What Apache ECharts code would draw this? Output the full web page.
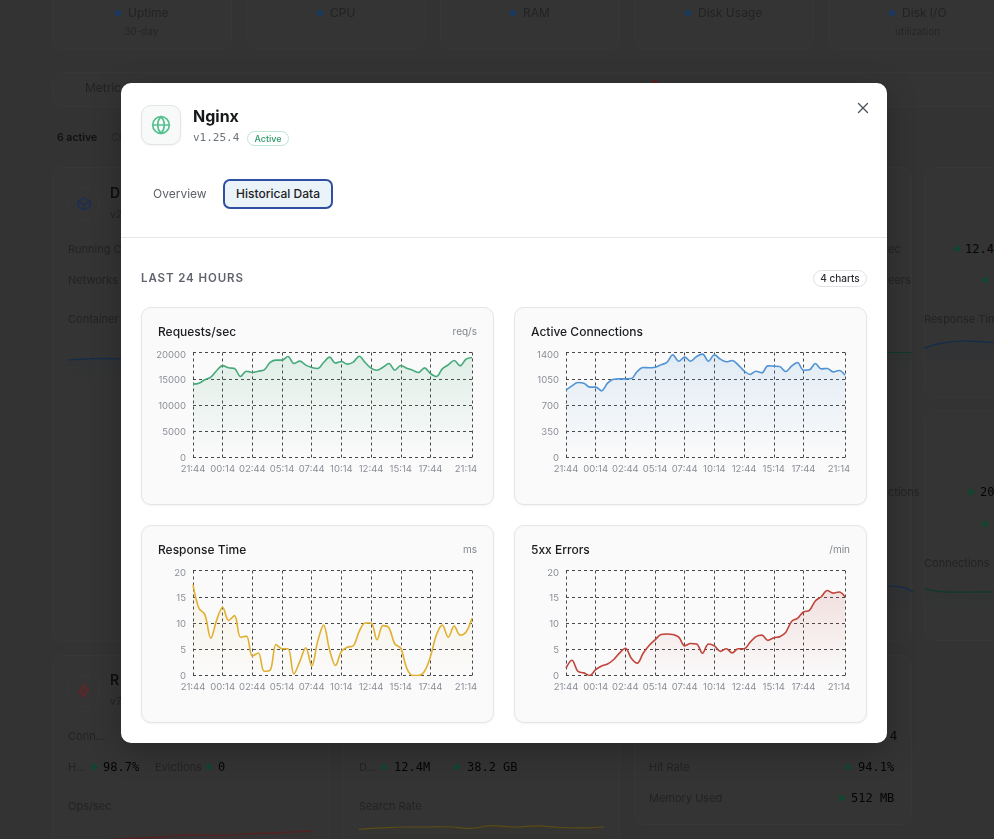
<!DOCTYPE html>
<html><head><meta charset="utf-8">
<script src="https://cdn.jsdelivr.net/npm/echarts@6/dist/echarts.min.js"></script>
<style>
*{box-sizing:border-box}
html,body{margin:0;padding:0;width:994px;height:839px;overflow:hidden;background:#333;font-family:Inter,"Noto Sans",sans-serif}
.abs{position:absolute}
#bg{position:absolute;inset:0;filter:blur(.4px)}
.bc{position:absolute;border:1px solid #373737;border-radius:10px;background:#343434}
.t{position:absolute;white-space:nowrap;transform:translateY(-50%);font-size:11px;color:#1d1d1d;line-height:1}
.l{color:#232323}
.m{font-family:"DejaVu Sans Mono","Liberation Mono",monospace;color:#050505;font-size:12px}
.d{position:absolute;width:6px;height:6px;border-radius:50%;background:#12452f;transform:translate(-50%,-50%)}
.d.b{background:#173a63}
#modal{position:absolute;left:121px;top:83px;width:766px;height:660px;background:#fff;border-radius:10px;box-shadow:0 8px 30px rgba(0,0,0,.25)}
.card{position:absolute;width:353px;height:198px;background:#fafafa;border:1px solid #e3e5e8;border-radius:10px;box-shadow:0 1px 2px rgba(0,0,0,.05)}
.card .ttl{position:absolute;left:16px;top:16px;font-size:12px;font-weight:500;color:#1b1c1f;line-height:15px}
.card .un{position:absolute;right:16px;top:16px;font-size:10px;color:#80858d;line-height:15px}
.card .ch{position:absolute;left:-1px;top:-1px;width:353px;height:198px}
</style></head><body>
<div id="bg"></div>
<div id="modal">
  <div class="abs" style="left:20px;top:22px;width:40px;height:40px;border:1px solid #e2e4e7;border-radius:10px;background:#f8f9f9;box-shadow:0 1px 2px rgba(0,0,0,.05)">
    <svg style="position:absolute;left:9px;top:9px" width="20" height="20" viewBox="0 0 24 24" fill="none" stroke="#55c18f" stroke-width="2" stroke-linecap="round" stroke-linejoin="round"><circle cx="12" cy="12" r="10"/><path d="M12 2a14.5 14.5 0 0 0 0 20 14.5 14.5 0 0 0 0-20"/><path d="M2 12h20"/></svg>
  </div>
  <div class="abs" style="left:72px;top:23px;font-size:16px;font-weight:700;color:#17181a;line-height:20px">Nginx</div>
  <div class="abs" style="left:72px;top:48px;font-family:'DejaVu Sans Mono',monospace;font-size:11px;color:#6f747b;line-height:14px">v1.25.4</div>
  <div class="abs" style="left:126px;top:48px;width:42px;height:15px;border:1px solid #bfe5d3;border-radius:8px;font-size:9px;font-weight:500;color:#2f9768;text-align:center;line-height:13px">Active</div>
  <svg class="abs" style="left:736px;top:19px" width="12" height="12" viewBox="0 0 12 12" fill="none" stroke="#4b5057" stroke-width="1.3" stroke-linecap="round"><path d="M1.5 1.5l9 9M10.5 1.5l-9 9"/></svg>
  <div class="abs" style="left:32px;top:103px;font-size:12px;color:#5c6068;line-height:16px">Overview</div>
  <div class="abs" style="left:102px;top:96px;width:110px;height:30px;border:2px solid #2f4fa3;border-radius:7px;background:#eaf3f8;font-size:12px;font-weight:500;color:#1e2126;text-align:center;line-height:26px">Historical Data</div>
  <div class="abs" style="left:0;top:154px;width:766px;height:1px;background:#e5e7ea"></div>
  <div class="abs" style="left:20px;top:187px;font-size:11.5px;font-weight:600;letter-spacing:.9px;color:#5f646c;line-height:16px">LAST 24 HOURS</div>
  <div class="abs" style="left:692px;top:187px;width:54px;height:17px;border:1px solid #dfe1e4;border-radius:9px;font-size:10px;font-weight:500;color:#2b2e33;text-align:center;line-height:15px">4 charts</div>
  <div class="card" style="left:20px;top:224px"><div class="ttl">Requests/sec</div><div class="un">req/s</div><div class="ch" id="c1"></div></div>
  <div class="card" style="left:393px;top:224px"><div class="ttl">Active Connections</div><div class="ch" id="c2"></div></div>
  <div class="card" style="left:20px;top:442px"><div class="ttl">Response Time</div><div class="un">ms</div><div class="ch" id="c3"></div></div>
  <div class="card" style="left:393px;top:442px"><div class="ttl">5xx Errors</div><div class="un">/min</div><div class="ch" id="c4"></div></div>
</div>
<script>
const categories=["21:44","22:14","22:44","23:14","23:44","00:14","00:44","01:14","01:44","02:14","02:44","03:14","03:44","04:14","04:44","05:14","05:44","06:14","06:44","07:14","07:44","08:14","08:44","09:14","09:44","10:14","10:44","11:14","11:44","12:14","12:44","13:14","13:44","14:14","14:44","15:14","15:44","16:14","16:44","17:14","17:44","18:14","18:44","19:14","19:44","20:14","20:44","21:14"];
const requestsPerSec=[13970,14160,14800,15300,16570,17500,17080,16950,15430,16440,16190,16440,16700,18100,18540,18540,19240,17900,18350,17590,17140,16950,18100,19110,17970,18290,17780,18160,19300,18100,17020,16630,17200,17900,16630,17520,17020,16630,16190,17080,16000,15430,16890,17650,18480,17460,18730,19050];
const activeConnections=[898,955,1000,991,938,938,889,991,1044,1049,1049,1053,1147,1200,1196,1204,1236,1267,1369,1284,1338,1284,1347,1378,1284,1369,1311,1276,1293,1236,1156,1107,1151,1129,1222,1218,1213,1147,1218,1267,1164,1169,1253,1182,1187,1142,1160,1098];
const responseTime=[17.3,12.8,11.6,7.1,10.6,13,10.5,11.4,7.3,7.5,3.7,4.3,0.8,1,5.9,5.1,5.1,0.3,2.7,5.3,1.8,6.5,9.6,4.9,1.9,4.6,5.4,5.65,8.4,10,10,6.8,9.5,9.1,6,5.2,1.4,0,0,0.8,3.6,7.7,9.6,7.3,9.4,7.7,8.3,10.9];
const errors5xx=[1.4,2.9,0.8,0.5,0,1.1,1.8,2.2,3,4.25,5.2,3.3,2.35,4.25,5.7,6.8,7.8,7.9,7.8,7.3,5.65,6.1,6,4.25,6,5.65,4.6,5.1,4.3,5.1,5.1,6.3,7.4,7.7,6.7,7.2,7.4,8.2,10.3,10.9,12.1,12.4,14.2,15,16.2,15.7,15.9,15];

const dockerSpark=[5,5.4,5.1,5.3,6.5,6.8];
const rightGreenSpark=[5,5,5];
const responseSpark=[4.2,5.6,6,5.8,5.6,5.6];
const midBlueSpark=[6,5.8,4.6];
const connectionsSpark=[6.2,5.2,5.1,5.2,5.1,5.1];
const opsSpark=[2,2.6,3.2,3.6,4.4,4.2,4.8,5.2,5.6];
const searchSpark=[4,4.6,5,5,5.1,4.4,5.6,5,5.5,4.8,4.6,5.1];

function hexA(c,a){const n=parseInt(c.slice(1),16);return `rgba(${n>>16},${(n>>8)&255},${n&255},${a})`}
function isMajor(i){return i===categories.length-1||(i%5===0&&i<=40)}
function draw(id,data,color,max,step,alpha){
  const ch=echarts.init(document.getElementById(id),null,{renderer:'canvas'});
  const lastCat=categories[categories.length-1];
  const font={color:'#8a8e96',fontSize:9.5,fontFamily:'Inter'};
  ch.setOption({
    animation:false,
    grid:{left:52,right:22,top:45.5,height:105,containLabel:false},
    xAxis:{type:'category',data:categories,boundaryGap:false,
      axisLine:{show:false},axisTick:{show:false},
      axisLabel:{interval:isMajor,...font,margin:7,hideOverlap:false,
        formatter:v=>v===lastCat?'{last|'+v+'}':v,
        rich:{last:{padding:[0,12,0,0],...font}}},
      splitLine:{show:true,interval:isMajor,lineStyle:{color:'#474747',type:[3,3],width:1}}},
    yAxis:{type:'value',min:0,max:max,interval:step,
      axisLine:{show:false},axisTick:{show:false},
      axisLabel:{...font,margin:7,
        formatter:v=>v===max?'{top|'+v+'}':'{n|'+v+'}',
        rich:{top:{padding:[5,0,0,0],...font},n:{padding:[2,0,0,0],...font}}},
      splitLine:{show:true,lineStyle:{color:'#474747',type:[3,3],width:1}}},
    series:[{type:'line',data:data,smooth:0.35,showSymbol:false,z:3,
      lineStyle:{color:color,width:1.6},
      areaStyle:{color:new echarts.graphic.LinearGradient(0,0,0,1,[{offset:0,color:hexA(color,alpha)},{offset:1,color:hexA(color,0)}])}}]
  });
}
draw('c1',requestsPerSec,'#45a97a',20000,5000,.2);
draw('c2',activeConnections,'#4f94d6',1400,350,.2);
draw('c3',responseTime,'#e0b02e',20,5,.14);
draw('c4',errors5xx,'#c0443a',20,5,.2);

// dimmed page behind the dialog
const bg=document.getElementById('bg');
function box(x,y,w,h){const e=document.createElement('div');e.className='bc';e.style.cssText=`left:${x}px;top:${y}px;width:${w}px;height:${h}px`;bg.appendChild(e)}
function txt(x,y,s,cls,extra){const e=document.createElement('div');e.className='t '+(cls||'l');e.textContent=s;e.style.left=x+'px';e.style.top=y+'px';if(extra)e.style.cssText+=extra;bg.appendChild(e)}
function dot(x,y,cls){const e=document.createElement('div');e.className='d '+(cls||'');e.style.left=x+'px';e.style.top=y+'px';bg.appendChild(e)}
function icon(x,y,color,path){box(x,y,32,32);const e=document.createElement('div');e.style.cssText=`position:absolute;left:${x+8}px;top:${y+8}px;width:16px;height:16px`;e.innerHTML=`<svg width="16" height="16" viewBox="0 0 24 24" fill="none" stroke="${color}" stroke-width="2" stroke-linejoin="round">${path}</svg>`;bg.appendChild(e)}
[[52,-10,180,60],[246,-10,180,60],[440,-10,180,60],[634,-10,180,60],[828,-10,180,60],[52,72,1000,35],[52,167,278,475],[342,167,278,475],[634,167,278,475],[924,167,200,231],[924,410,200,231],[52,655,278,200],[342,655,278,200],[634,655,278,170]].forEach(b=>box(...b));
icon(68,188,'#1b2f55','<path d="M21 8l-9-5-9 5v8l9 5 9-5z"/><path d="M3 8l9 5 9-5M12 13v8"/>');
icon(68,675,'#6a2323','<path d="M13 2L4 14h7l-1 8 9-12h-7z"/>');
[[118,'Uptime'],[320,'CPU'],[513,'RAM'],[688,'Disk Usage'],[892,'Disk I/O']].forEach(([x,s])=>{dot(x,13,'b');txt(x+10,13,s,'','font-size:12px')});
txt(124,31,'30-day','','font-size:10px;color:#262626');txt(895,31,'utilization','','font-size:10px;color:#262626');
txt(85,88,'Metric','','font-size:12px;color:#222');txt(57,138,'6 active','','font-size:10.5px;font-weight:600;color:#111');txt(111,138,'Cl','','font-size:10.5px;color:#262626');
txt(110,193,'D','','font-size:14px;font-weight:600;color:#0e0e0e');txt(110,215,'v2','','font-size:10.5px');
txt(68,249,'Running Co');txt(68,280,'Networks');txt(68,319,'Container C');
txt(888,249,'ec');dot(957,249);txt(965,249,'12.4','m');txt(888,280,'eers');dot(985,280);txt(924,319,'Response Time');
txt(888,492,'ctions');dot(971,492);txt(980,492,'20','m');dot(985,524);txt(924,563,'Connections');
txt(110,680,'R','','font-size:14px;font-weight:600;color:#0e0e0e');txt(110,702,'v7','','font-size:10.5px');
txt(68,736,'Conn...');txt(68,767,'H...');dot(94,767);txt(103,767,'98.7%','m');txt(155,767,'Evictions');dot(209,767);txt(218,767,'0','m');txt(68,806,'Ops/sec');
txt(359,767,'D...');dot(384,767);txt(394,767,'12.4M','m');dot(457,767);txt(467,767,'38.2 GB','m');txt(359,806,'Search Rate');
txt(890,736,'4','m');txt(649,767,'Hit Rate');dot(848,767);txt(858,767,'94.1%','m');txt(649,798,'Memory Used');dot(842,798);txt(851,798,'512 MB','m');
function spark(x,y,w,h,data,color,top){
  const e=document.createElement('div');e.style.cssText=`position:absolute;left:${x}px;top:${y}px;width:${w}px;height:${h}px`;bg.appendChild(e);
  echarts.init(e).setOption({animation:false,grid:{left:0,right:0,top:0,bottom:0},
    xAxis:{type:'category',show:false,boundaryGap:false,data:data.map((_,i)=>i)},
    yAxis:{type:'value',show:false,min:0,max:top||10},
    series:[{type:'line',data:data,smooth:.4,showSymbol:false,lineStyle:{color:color,width:1.2},
      areaStyle:{color:new echarts.graphic.LinearGradient(0,0,0,1,[{offset:0,color:hexA(color,.1)},{offset:1,color:hexA(color,0)}])}}]});
}
spark(68,340,180,40,dockerSpark,'#122c4c');
spark(888,335,25,35,rightGreenSpark,'#0f3a28');
spark(924,325,100,40,responseSpark,'#122c4c');
spark(888,570,25,40,midBlueSpark,'#122c4c');
spark(924,575,100,35,connectionsSpark,'#0f3a28');
spark(68,818,245,30,opsSpark,'#5a1f1f');
spark(359,815,245,24,searchSpark,'#5a4c14');
// red dot peeking over the dialog top
const rd=document.createElement('div');rd.style.cssText='position:absolute;left:652px;top:80px;width:6px;height:6px;border-radius:50%;background:#5a1f1f';bg.appendChild(rd);
</script>
</body></html>
